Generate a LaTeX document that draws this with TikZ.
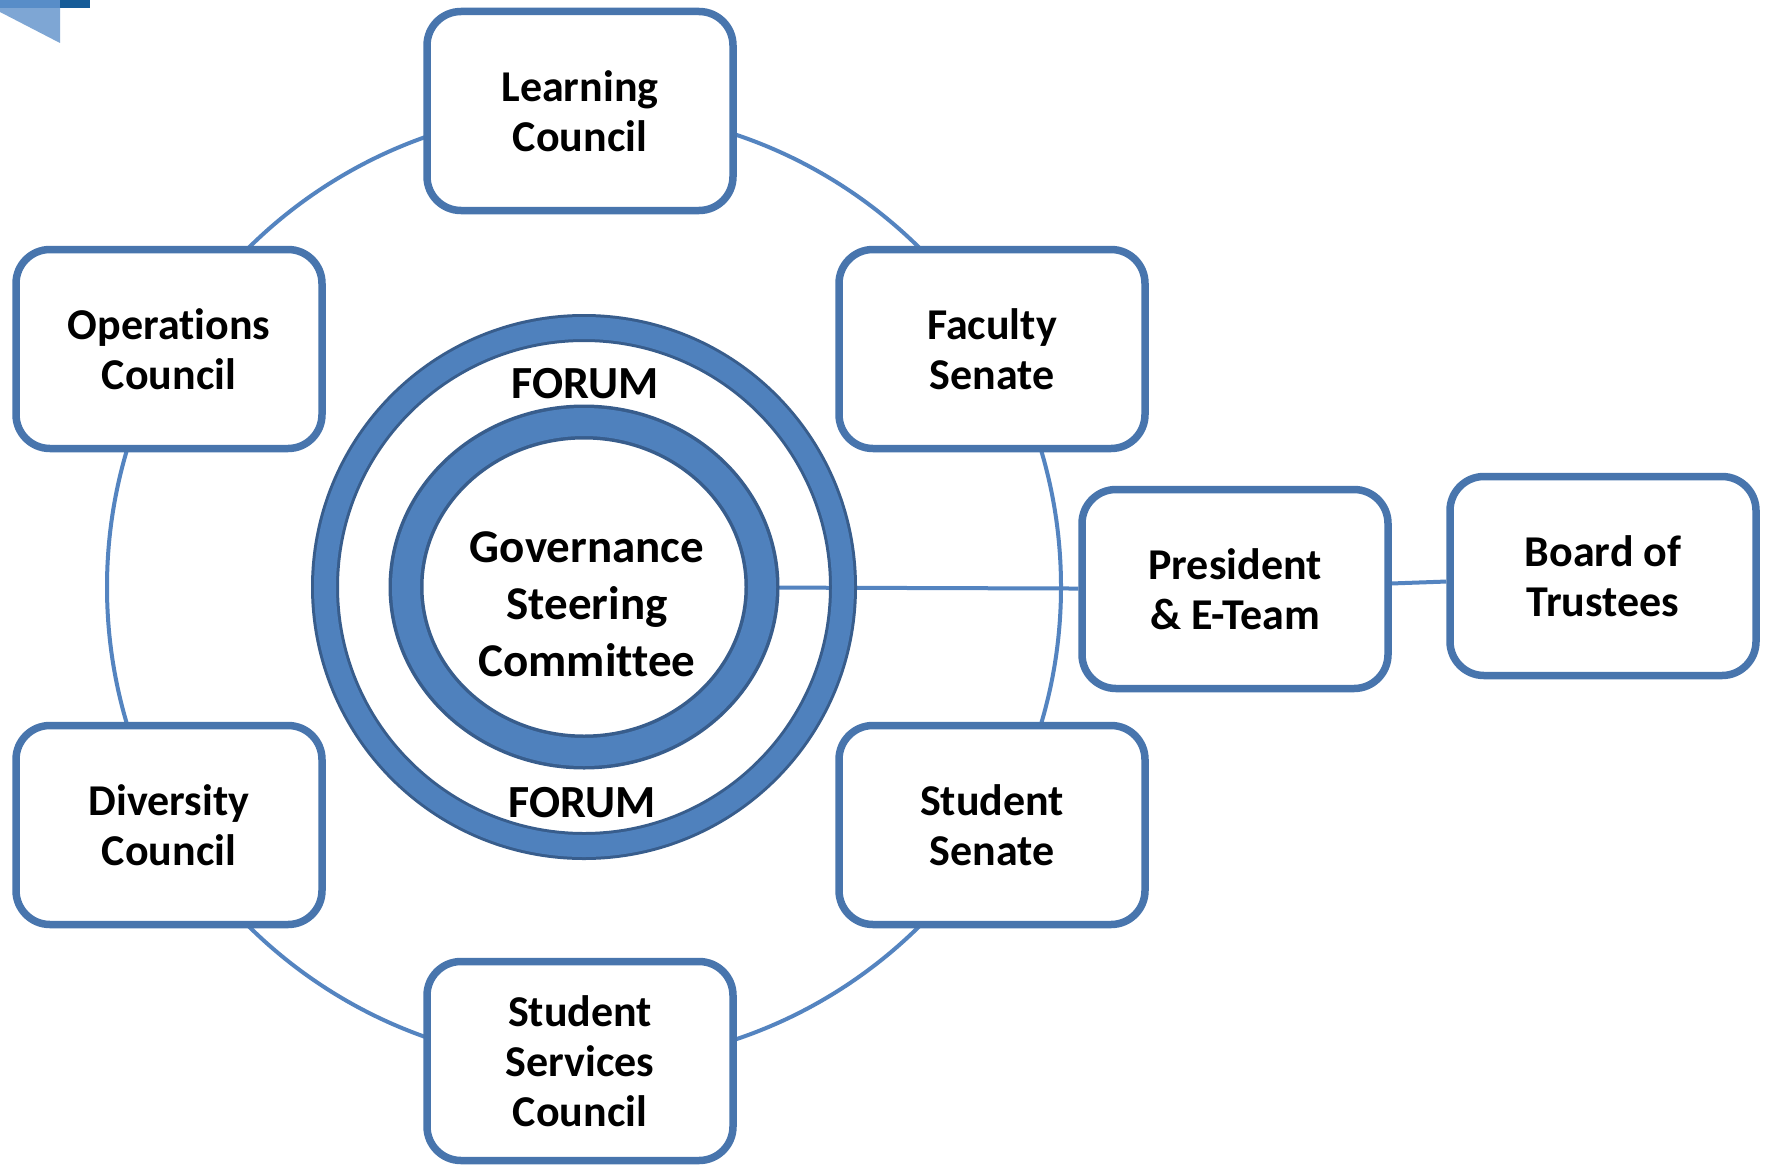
\documentclass[tikz,border=0pt]{standalone}
\usepackage{fontspec}
\setmainfont{Carlito}[Ligatures=NoCommon]
\usetikzlibrary{
  shapes.geometric,
  backgrounds
}
\definecolor{boxblue}{RGB}{72,117,173}
\definecolor{ringblue}{RGB}{79,129,189}
\definecolor{ringdark}{RGB}{56,93,140}
\definecolor{linkblue}{RGB}{84,132,192}
\definecolor{cornerlight}{RGB}{126,166,212}
\definecolor{cornermid}{RGB}{88,141,200}
\definecolor{cornerdark}{RGB}{22,92,152}
\tikzset{
  body/.style={draw=boxblue, line width=7.5pt, rounded corners=34pt, fill=white,
    minimum width=306pt, minimum height=199pt, align=center, inner sep=0pt,
    font=\fontsize{44}{50}\selectfont\bfseries},
  link/.style={draw=linkblue, line width=4pt},
  ring/.style={draw=ringdark, line width=3pt, double=ringblue, inner sep=0pt},
  hub/.style={align=center, font=\fontsize{47}{57}\selectfont\bfseries},
  forum/.style={font=\fontsize{46}{50}\selectfont\bfseries}
}

\begin{document}
\begin{tikzpicture}[x=1pt,y=-1pt]
  \useasboundingbox (0,0) rectangle (1771,1164);
  \coordinate (ctr) at (584,587);
  % corner mark
  \fill[cornerlight] (0,0) -- (60,0) -- (60,43) -- (0,12) -- cycle;
  \fill[cornermid] (0,0) rectangle (60,8);
  \fill[cornerdark] (60,0) rectangle (90,8);
  % forum and steering committee
  \node[ring, circle, minimum size=518pt, double distance=22pt] (forumring) at (ctr) {};
  \node[ring, ellipse, minimum width=356pt, minimum height=330pt,
    line width=3.5pt, double distance=28pt] (gsc) at (ctr) {};
  \node[hub] (gsctext) at (587,604) {Governance\\Steering\\Committee};
  \node[forum] (forumtop) at (585,384) {FORUM};
  \node[forum] (forumbot) at (582,803) {FORUM};
  % councils round the circle
  \node[body] (learn) at (580,111) {Learning\\Council};
  \node[body] (ops) at (169,349) {Operations\\Council};
  \node[body] (faculty) at (992,349) {Faculty\\Senate};
  \node[body] (diversity) at (169,825) {Diversity\\Council};
  \node[body] (stusenate) at (992,825) {Student\\Senate};
  \node[body] (stuserv) at (580,1061) {Student\\Services\\Council};
  \node[body] (pres) at (1235,589) {President\\\& E-Team};
  \node[body] (board) at (1603,576) {Board of\\Trustees};
  \begin{scope}[on background layer]
    \fill[white] (0,0) rectangle (1771,1164);
    \draw[link] (ctr) circle[radius=477];
    \draw[link] (gsc) -- (pres);
    \draw[link] (pres) -- (board);
  \end{scope}
\end{tikzpicture}
\end{document}
